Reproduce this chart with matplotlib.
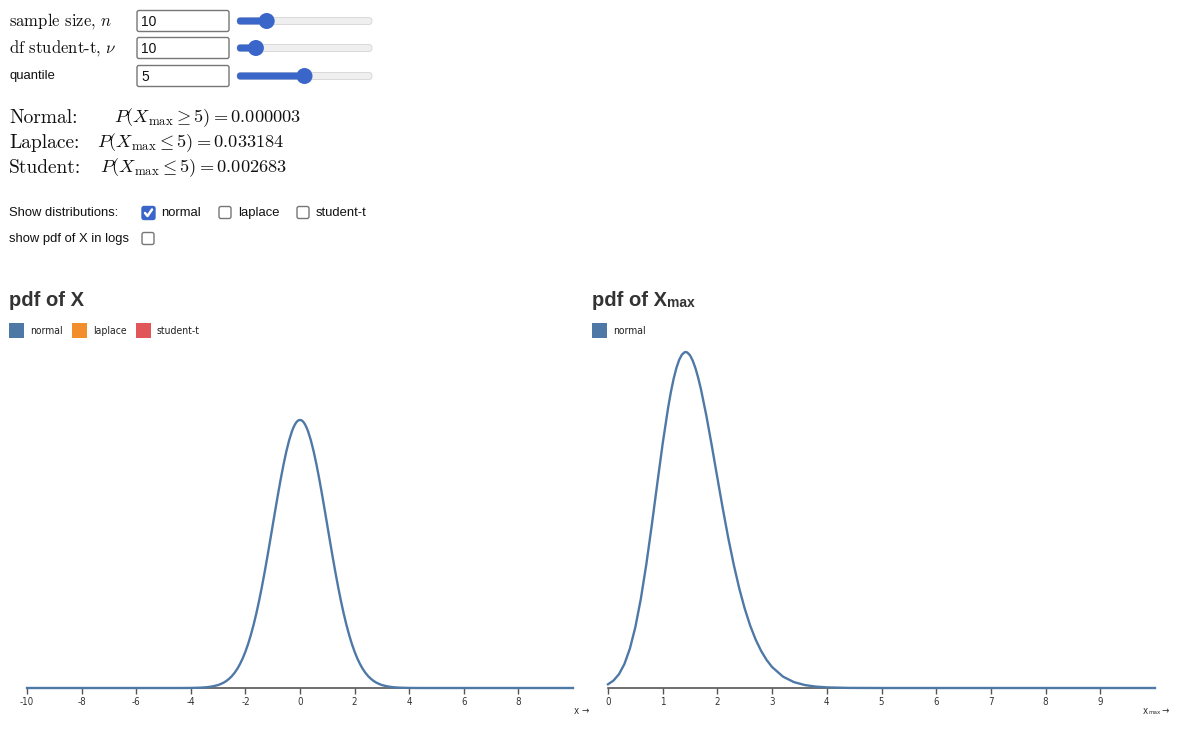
import matplotlib.pyplot as plt
from matplotlib.patches import FancyBboxPatch, Circle, Rectangle

# -------------------------
# Data
# -------------------------

# pdf of X, normal
norm_x = [-10, -5, -4.4, -4.0, -3.8, -3.6, -3.4, -3.2,
          -3.0, -2.9, -2.8, -2.7, -2.6, -2.5, -2.4, -2.3, -2.2, -2.1,
          -2.0, -1.9, -1.8, -1.7, -1.6, -1.5, -1.4, -1.3, -1.2, -1.1,
          -1.0, -0.9, -0.8, -0.7, -0.6, -0.5, -0.4, -0.3, -0.25, -0.2, -0.15, -0.1, -0.05,
          0.0, 0.05, 0.1, 0.15, 0.2, 0.25, 0.3, 0.4, 0.5, 0.6, 0.7, 0.8, 0.9,
          1.0, 1.1, 1.2, 1.3, 1.4, 1.5, 1.6, 1.7, 1.8, 1.9,
          2.0, 2.1, 2.2, 2.3, 2.4, 2.5, 2.6, 2.7, 2.8, 2.9,
          3.0, 3.2, 3.4, 3.6, 3.8, 4.0, 4.4, 5, 10]
norm_pdf = [0.0, 0.0, 0.0, 0.0001, 0.0003, 0.0006, 0.0012, 0.0024,
            0.0044, 0.0060, 0.0079, 0.0104, 0.0136, 0.0175, 0.0224, 0.0283, 0.0355, 0.0440,
            0.0540, 0.0656, 0.0790, 0.0940, 0.1109, 0.1295, 0.1497, 0.1714, 0.1942, 0.2179,
            0.2420, 0.2661, 0.2897, 0.3123, 0.3332, 0.3521, 0.3683, 0.3814, 0.3867, 0.3910, 0.3945, 0.3970, 0.3984,
            0.3989, 0.3984, 0.3970, 0.3945, 0.3910, 0.3867, 0.3814, 0.3683, 0.3521, 0.3332, 0.3123, 0.2897, 0.2661,
            0.2420, 0.2179, 0.1942, 0.1714, 0.1497, 0.1295, 0.1109, 0.0940, 0.0790, 0.0656,
            0.0540, 0.0440, 0.0355, 0.0283, 0.0224, 0.0175, 0.0136, 0.0104, 0.0079, 0.0060,
            0.0044, 0.0024, 0.0012, 0.0006, 0.0003, 0.0001, 0.0, 0.0, 0.0]

# pdf of X_max, normal
max_x = [0.0, 0.1, 0.2, 0.3, 0.4, 0.5, 0.6, 0.7, 0.8, 0.9,
         1.0, 1.1, 1.15, 1.2, 1.25, 1.3, 1.35, 1.4, 1.42, 1.45, 1.5, 1.55, 1.6, 1.65, 1.7, 1.8, 1.9,
         2.0, 2.1, 2.2, 2.3, 2.4, 2.5, 2.6, 2.7, 2.8, 2.9,
         3.0, 3.2, 3.4, 3.6, 3.8, 4.0, 4.4, 5, 10]
max_pdf = [0.0078, 0.0155, 0.0287, 0.0501, 0.0822, 0.1272, 0.1862, 0.2581, 0.3400, 0.4265,
           0.5111, 0.5865, 0.6188, 0.6463, 0.6686, 0.6855, 0.6965, 0.7017, 0.7022, 0.7012,
           0.6952, 0.6839, 0.6679, 0.6478, 0.6240, 0.5680, 0.5048,
           0.4389, 0.3740, 0.3127, 0.2571, 0.2079, 0.1657, 0.1302, 0.1010, 0.0774, 0.0585,
           0.0438, 0.0237, 0.0123, 0.0061, 0.0029, 0.0013, 0.0002, 0.0, 0.0]

left_ymax = 0.5  # laplace peak sets the scale of the left panel
left_ticks = [-10, -8, -6, -4, -2, 0, 2, 4, 6, 8]
right_ticks = [0, 1, 2, 3, 4, 5, 6, 7, 8, 9]

legend_left = ["normal", "laplace", "student-t"]
legend_colors = ["#4e79a7", "#f28e2c", "#e15759"]

control_labels = ["sample size, $n$", "df student-t, $\\nu$", "quantile"]
control_values = ["10", "10", "5"]
slider_frac = [0.22, 0.14, 0.50]

prob_labels = ["Normal:", "Laplace:", "Student:"]
prob_texts = [r"$P(X_{\mathrm{max}} \geq 5) = 0.000003$",
              r"$P(X_{\mathrm{max}} \leq 5) = 0.033184$",
              r"$P(X_{\mathrm{max}} \leq 5) = 0.002683$"]

dist_options = ["normal", "laplace", "student-t"]
dist_checked = [True, False, False]

# -------------------------
# Figure setup
# -------------------------
plt.rcParams['mathtext.fontset'] = 'cm'
SANS = ['Liberation Sans', 'DejaVu Sans']
BLUE_UI = "#3b66c9"
NARROW = dict(family='DejaVu Sans', stretch='condensed')

W, H = 1200, 737
fig = plt.figure(figsize=(12, 7.37), dpi=100)
ui = fig.add_axes([0, 0, 1, 1])
ui.set_xlim(0, W)
ui.set_ylim(H, 0)
ui.axis('off')


def px_axes(x0, y_top, x1, y_bot):
    return fig.add_axes([x0 / W, 1 - y_bot / H, (x1 - x0) / W, (y_bot - y_top) / H])


# -------------------------
# Controls: labels, text boxes, sliders
# -------------------------
row_y = [21, 48, 76]
for i, (lab, val, frac) in enumerate(zip(control_labels, control_values, slider_frac)):
    y = row_y[i]
    if lab == "quantile":
        ui.text(9, y, lab, family=SANS, fontsize=9.4, va='center', color='#111')
    else:
        ui.text(9, y, lab, family='cmr10', fontsize=12, va='center', color='#111')
    box = FancyBboxPatch((137, y - 10.5), 92, 21, boxstyle="round,pad=0,rounding_size=2",
                         fc='white', ec='#767676', lw=1)
    ui.add_patch(box)
    ui.text(141, y + 0.5, val, family=SANS, fontsize=10, va='center', color='#111')
    # slider
    tx0, tx1 = 237, 372
    ui.add_patch(FancyBboxPatch((tx0, y - 3.5), tx1 - tx0, 7,
                                boxstyle="round,pad=0,rounding_size=3.5",
                                fc='#efefef', ec='#d4d4d4', lw=0.6))
    cx = tx0 + frac * (tx1 - tx0)
    ui.add_patch(FancyBboxPatch((tx0, y - 3.5), cx - tx0, 7,
                                boxstyle="round,pad=0,rounding_size=3.5",
                                fc=BLUE_UI, ec='none'))
    ui.add_patch(Circle((cx, y), 8, fc=BLUE_UI, ec='none'))

# -------------------------
# Probabilities
# -------------------------
prob_y = [118, 143, 168]
eq_x = [114, 97, 100]
for lab, txt, y, ex in zip(prob_labels, prob_texts, prob_y, eq_x):
    ui.text(9, y, lab, family='cmr10', fontsize=14, va='center', color='#111')
    ui.text(ex, y, txt, fontsize=13.2, va='center', color='#111')

# -------------------------
# Checkboxes
# -------------------------


def checkbox(x, y, checked):
    if checked:
        ui.add_patch(FancyBboxPatch((x, y - 6.5), 13, 13, boxstyle="round,pad=0,rounding_size=2",
                                    fc=BLUE_UI, ec=BLUE_UI, lw=1))
        ui.plot([x + 3, x + 5.5, x + 10], [y, y + 3, y - 3.5], color='white', lw=1.8,
                solid_capstyle='round', solid_joinstyle='round')
    else:
        ui.add_patch(FancyBboxPatch((x, y - 6.5), 12, 12, boxstyle="round,pad=0,rounding_size=2",
                                    fc='white', ec='#767676', lw=1))


ui.text(9, 213, "Show distributions:", family=SANS, fontsize=9.4, va='center', color='#111')
box_x = [142, 219, 297]
for opt, chk, bx in zip(dist_options, dist_checked, box_x):
    checkbox(bx, 213, chk)
    ui.text(bx + 19, 213, opt, family=SANS, fontsize=9.4, va='center', color='#111')

ui.text(9, 239, "show pdf of X in logs", family=SANS, fontsize=9.4, va='center', color='#111')
checkbox(142, 239, False)

# -------------------------
# Panel titles and legends
# -------------------------
renderer = fig.canvas.get_renderer()
ui.text(9, 306, "pdf of X", family=SANS, fontsize=14.5, weight='bold',
        va='baseline', color='#333')
t2 = ui.text(592, 306, "pdf of X", family=SANS, fontsize=14.5, weight='bold',
             va='baseline', color='#333')
bb = t2.get_window_extent(renderer)
ui.text(592 + bb.width + 0.5, 307, "max", family=SANS, fontsize=10, weight='bold',
        va='baseline', color='#333')


def legend(x0, names, colors, gaps):
    x = x0
    for name, col, gap in zip(names, colors, gaps):
        ui.add_patch(Rectangle((x, 323), 15, 15, fc=col, ec='none'))
        ui.text(x + 21, 331, name, fontsize=7.5, va='center', color='#222', **NARROW)
        x += gap


legend(9, legend_left, legend_colors, [63, 64, 0])
legend(592, legend_left[:1], legend_colors[:1], [0])

# -------------------------
# Panels
# -------------------------


def style_axis(ax, ticks):
    for s in ['top', 'left', 'right']:
        ax.spines[s].set_visible(False)
    ax.spines['bottom'].set_color('#555')
    ax.spines['bottom'].set_linewidth(1.2)
    ax.set_yticks([])
    ax.set_xticks(ticks)
    ax.set_xticklabels([str(t) for t in ticks])
    ax.tick_params(axis='x', direction='out', length=4.5, width=1, color='#555',
                   labelsize=7, labelcolor='#333', pad=2)
    for lbl in ax.get_xticklabels():
        lbl.set_family(NARROW['family'])
        lbl.set_stretch(NARROW['stretch'])
    ax.patch.set_alpha(0)


ax1 = px_axes(27, 352, 573, 688)
ax1.plot(norm_x, norm_pdf, color=legend_colors[0], lw=1.7, clip_on=False, zorder=3)
ax1.set_xlim(-10, 10)
ax1.set_ylim(0, left_ymax)
style_axis(ax1, left_ticks)

ax2 = px_axes(608, 352, 1155, 688)
ax2.plot(max_x, max_pdf, color=legend_colors[0], lw=1.7, clip_on=False, zorder=3)
ax2.set_xlim(0, 10)
ax2.set_ylim(0, max(max_pdf))
style_axis(ax2, right_ticks)

# axis labels
ui.text(589, 711, "x \u2192", fontsize=7, ha='right', va='center', color='#333', **NARROW)
ui.text(1143, 711, "x", fontsize=7, ha='left', va='center', color='#333', **NARROW)
ui.text(1148.5, 713, "max", fontsize=4.5, ha='left', va='center', color='#333', **NARROW)
ui.text(1169, 711, "\u2192", fontsize=7, ha='right', va='center', color='#333', **NARROW)

fig.savefig("out.png", dpi=100)
